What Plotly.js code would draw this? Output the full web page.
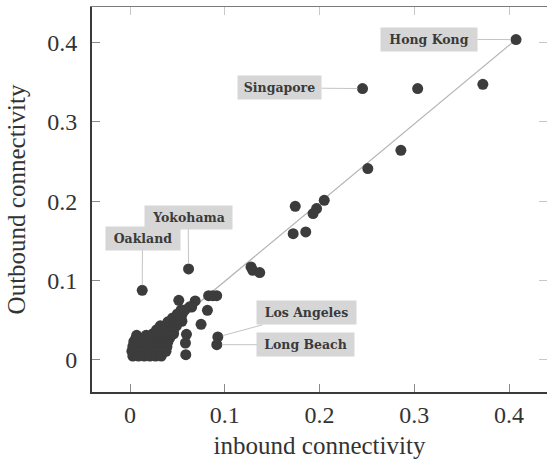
<!DOCTYPE html>
<html>
<head>
<meta charset="utf-8">
<script src="https://cdn.plot.ly/plotly-3.0.1.min.js"></script>
<style>html,body{margin:0;padding:0;background:#fff;}#chart{width:547px;height:462px;}</style>
</head>
<body>
<div id="chart"></div>
<script>
// Port connectivity values
const inbound = [
  0.4074, 0.2454, 0.3036, 0.3724, 0.2859, 0.2510, 0.2050, 0.1744, 0.1969, 0.1932,
  0.1722, 0.1855, 0.1277, 0.1295, 0.1369, 0.0618, 0.0129, 0.0830, 0.0875, 0.0915,
  0.0817, 0.0750, 0.0927, 0.0916, 0.0596, 0.0585, 0.0589, 0.0515, 0.0688, 0.0651,
  0.0560, 0.0630, 0.0548,
  0.003, 0.009, 0.015, 0.021, 0.027, 0.033,
  0.002, 0.008, 0.014, 0.020, 0.026, 0.032, 0.038,
  0.003, 0.009, 0.015, 0.021, 0.027, 0.033, 0.039,
  0.004, 0.010, 0.016, 0.022, 0.028, 0.034, 0.040,
  0.006, 0.012, 0.018, 0.024, 0.030, 0.036, 0.042,
  0.007, 0.017,
  0.024, 0.030, 0.036, 0.042, 0.046,
  0.028, 0.034, 0.040, 0.046,
  0.032, 0.038, 0.044, 0.049,
  0.040, 0.046, 0.051,
  0.045, 0.050, 0.054,
  0.050, 0.055,
  0.054, 0.058
];
const outbound = [
  0.4034, 0.3417, 0.3417, 0.3471, 0.2640, 0.2410, 0.2010, 0.1935, 0.1906, 0.1843,
  0.1590, 0.1612, 0.1171, 0.1129, 0.1100, 0.1146, 0.0877, 0.0810, 0.0810, 0.0810,
  0.0625, 0.0449, 0.0290, 0.0193, 0.0323, 0.0214, 0.0067, 0.0751, 0.0743, 0.0667,
  0.0610, 0.0670, 0.0487,
  0.005, 0.005, 0.005, 0.005, 0.005, 0.005,
  0.011, 0.011, 0.011, 0.011, 0.011, 0.011, 0.011,
  0.017, 0.017, 0.017, 0.017, 0.017, 0.017, 0.017,
  0.023, 0.023, 0.023, 0.023, 0.023, 0.023, 0.023,
  0.027, 0.027, 0.027, 0.028, 0.028, 0.028, 0.028,
  0.031, 0.031,
  0.033, 0.033, 0.033, 0.033, 0.033,
  0.038, 0.038, 0.038, 0.038,
  0.043, 0.043, 0.043, 0.043,
  0.048, 0.048, 0.048,
  0.053, 0.053, 0.053,
  0.058, 0.058,
  0.063, 0.063
];
// Reference line (inbound = outbound trend)
const refLineX = [0, 0.408];
const refLineY = [0, 0.404];
// Labelled ports: name and index into the arrays above
const labelNames = ["Hong Kong", "Singapore", "Yokohama", "Oakland", "Los Angeles", "Long Beach"];
const labelIndex = [0, 1, 15, 16, 22, 23];
const xTicks = [0, 0.1, 0.2, 0.3, 0.4];
const yTicks = [0, 0.1, 0.2, 0.3, 0.4];

// Label box placement (text centre in data units) and box width in px
const labelBox = {
  "Hong Kong":   {ax: 0.3156, ay: 0.4037, w: 96},
  "Singapore":   {ax: 0.1580, ay: 0.3426, w: 83},
  "Yokohama":    {ax: 0.0614, ay: 0.1797, w: 87},
  "Oakland":     {ax: 0.0132, ay: 0.1533, w: 74},
  "Los Angeles": {ax: 0.1866, ay: 0.0594, w: 99},
  "Long Beach":  {ax: 0.1857, ay: 0.0191, w: 97}
};

const serif = "'Liberation Serif', 'Times New Roman', serif";

const traces = [
  {x: refLineX, y: refLineY, mode: "lines", type: "scatter",
   line: {color: "#b4b4b4", width: 1.2}, hoverinfo: "skip", showlegend: false},
  {x: inbound, y: outbound, mode: "markers", type: "scatter",
   marker: {size: 11, color: "#3c3c3c", line: {width: 0}}, showlegend: false}
];

const annotations = labelNames.map((name, i) => {
  const k = labelIndex[i];
  const b = labelBox[name];
  return {
    x: inbound[k], y: outbound[k], xref: "x", yref: "y",
    ax: b.ax, ay: b.ay, axref: "x", ayref: "y",
    text: "<b>" + name + "</b>", showarrow: true, arrowhead: 0, arrowwidth: 1,
    arrowcolor: "#c4c4c4", standoff: 5,
    bgcolor: "#d6d6d6", borderpad: 0, width: b.w, height: 23,
    font: {family: "'DejaVu Serif', 'Liberation Serif', serif", size: 12.5, color: "#3a3a3a"}
  };
});

const layout = {
  width: 547, height: 462,
  margin: {l: 92, r: 0, t: 7, b: 70, pad: 0},
  paper_bgcolor: "#ffffff", plot_bgcolor: "#ffffff",
  showlegend: false,
  xaxis: {
    range: [-0.0401, 0.4401], tickvals: xTicks, ticktext: xTicks.map(String),
    ticks: "inside", ticklen: 8, tickcolor: "#8a8a8a", tickwidth: 1,
    showline: true, linecolor: "#3a3a3a", linewidth: 2,
    showgrid: false, zeroline: false,
    tickfont: {family: serif, size: 24, color: "#333"},
    title: {text: "inbound connectivity", font: {family: serif, size: 25, color: "#333"}, standoff: 10}
  },
  yaxis: {
    range: [-0.0403, 0.4444], tickvals: yTicks, ticktext: yTicks.map(String),
    ticks: "inside", ticklen: 8, tickcolor: "#8a8a8a", tickwidth: 1,
    ticklabelstandoff: 8,
    showline: true, linecolor: "#3a3a3a", linewidth: 2,
    showgrid: false, zeroline: false,
    tickfont: {family: serif, size: 24, color: "#333"},
    title: {text: "Outbound connectivity", font: {family: serif, size: 25, color: "#333"}, standoff: 14}
  },
  xaxis2: {
    overlaying: "x", side: "top", matches: "x", anchor: "y",
    range: [-0.0401, 0.4401], tickvals: xTicks, showticklabels: false,
    ticks: "inside", ticklen: 8, tickcolor: "#c8c8c8",
    showline: true, linecolor: "#7a7a7a", linewidth: 1,
    showgrid: false, zeroline: false
  },
  yaxis2: {
    overlaying: "y", side: "right", matches: "y", anchor: "x",
    range: [-0.0403, 0.4444], tickvals: yTicks, showticklabels: false,
    ticks: "inside", ticklen: 8, tickcolor: "#c8c8c8",
    showline: false, showgrid: false, zeroline: false
  },
  annotations: annotations
};

// invisible trace to activate the mirror axes
traces.push({x: [0], y: [0], xaxis: "x2", yaxis: "y2", mode: "markers",
  marker: {opacity: 0}, hoverinfo: "skip", showlegend: false});

Plotly.newPlot("chart", traces, layout, {staticPlot: true, displayModeBar: false});
</script>
</body>
</html>
